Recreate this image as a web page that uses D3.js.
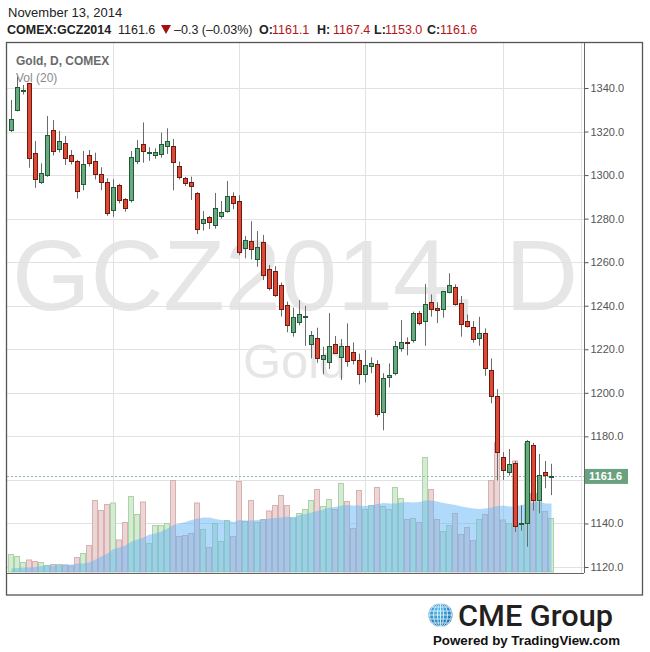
<!DOCTYPE html>
<html><head><meta charset="utf-8">
<script src="https://cdn.jsdelivr.net/npm/d3@7"></script>
<style>body{margin:0;background:#fff}svg{display:block}</style>
</head><body><svg id="c" width="650" height="652"></svg>
<script>
// ---- DATA ----
const opens  = [1320.4,1329.8,1338.6,1342.2,1310.0,1296.7,1299.9,1320.6,1311.8,1314.6,
                1309.1,1306.5,1295.8,1309.1,1306.3,1300.4,1296.7,1283.8,1295.3,1288.9,
                1288.4,1306.5,1314.3,1310.1,1309.1,1309.5,1313.2,1313.2,1304.0,1298.5,
                1296.7,1291.6,1277.7,1280.6,1276.9,1280.9,1283.2,1290.3,1288.1,1266.4,
                1269.6,1261.1,1269.1,1256.7,1255.8,1249.4,1240.2,1227.8,1232.4,1234.9,
                1222.1,1225.2,1215.7,1214.0,1222.6,1216.6,1221.5,1218.6,1214.9,1208.5,
                1212.6,1213.1,1190.9,1207.3,1209.0,1220.3,1223.2,1224.0,1236.5,1232.8,
                1241.6,1238.8,1238.4,1246.2,1248.5,1241.1,1233.0,1230.1,1225.0,1227.3,
                1210.3,1198.4,1170.4,1163.3,1167.6,1139.6,1140.0,1175.9,1150.6,1163.5,1161.1];
const highs  = [1334.5,1345.2,1341.4,1342.4,1315.7,1305.4,1327.1,1325.3,1320.3,1318.0,
                1311.5,1307.0,1311.1,1311.5,1310.3,1303.6,1298.5,1298.1,1296.0,1289.4,
                1311.1,1316.1,1324.2,1312.8,1312.3,1319.5,1321.5,1316.6,1306.2,1299.2,
                1299.3,1292.2,1283.5,1281.2,1291.8,1288.1,1297.3,1292.1,1290.7,1272.0,
                1278.8,1274.3,1272.5,1258.7,1258.2,1250.6,1241.9,1239.1,1242.6,1239.9,
                1228.4,1229.9,1221.2,1236.6,1226.1,1224.7,1231.9,1223.2,1218.0,1219.7,
                1216.3,1215.0,1209.0,1213.5,1223.8,1233.4,1225.5,1237.3,1237.6,1250.0,
                1245.2,1241.6,1246.8,1254.9,1249.8,1244.5,1236.0,1233.0,1234.9,1229.6,
                1215.8,1201.7,1172.8,1174.2,1168.7,1148.3,1178.3,1177.0,1171.9,1168.7,1167.4];
const lows   = [1319.8,1329.3,1337.0,1303.4,1294.2,1295.9,1299.2,1309.0,1310.4,1304.6,
                1304.9,1289.2,1293.0,1304.0,1298.0,1293.1,1281.3,1280.9,1287.0,1283.2,
                1287.4,1305.0,1305.7,1306.6,1307.5,1308.0,1309.7,1293.0,1298.0,1295.0,
                1288.6,1272.9,1274.5,1275.2,1275.4,1280.0,1282.7,1284.3,1263.2,1261.8,
                1261.3,1257.9,1251.8,1247.0,1244.0,1235.0,1227.8,1225.8,1231.0,1221.6,
                1215.8,1213.8,1208.5,1211.0,1218.0,1205.9,1212.0,1213.0,1203.9,1204.8,
                1209.0,1189.0,1182.8,1202.5,1208.0,1218.9,1217.2,1223.0,1231.0,1221.6,
                1235.0,1232.0,1234.5,1245.7,1240.0,1225.8,1230.0,1223.0,1221.6,1207.8,
                1195.2,1159.7,1160.0,1162.0,1136.1,1136.7,1129.3,1145.9,1144.7,1156.2,1153.0];
const closes = [1325.6,1340.3,1338.9,1307.7,1298.1,1300.8,1318.3,1311.1,1315.7,1307.7,
                1306.3,1292.5,1305.0,1305.4,1300.4,1296.7,1282.3,1294.4,1288.2,1284.9,
                1308.2,1312.3,1310.9,1310.4,1310.6,1314.1,1315.7,1305.9,1299.0,1296.2,
                1294.8,1275.1,1279.7,1278.3,1284.7,1282.9,1290.3,1286.9,1264.5,1270.0,
                1265.7,1266.8,1254.0,1248.0,1244.8,1238.4,1230.8,1234.8,1236.1,1235.1,
                1226.4,1215.8,1217.4,1221.5,1218.6,1221.5,1214.5,1214.9,1208.5,1212.6,
                1213.8,1190.1,1206.7,1208.2,1221.4,1223.2,1222.8,1236.5,1231.9,1240.6,
                1238.4,1237.9,1246.6,1249.4,1240.6,1231.5,1230.5,1224.6,1227.3,1211.3,
                1198.4,1172.7,1164.4,1167.2,1138.7,1140.0,1177.7,1150.6,1162.1,1161.9,1161.6];
// volume (thousands of contracts, estimated)
const volumes = [35,31,19,24,21,19,13,15,15,14, 12,29,37,53,143,123,135,138,64,99,
                 151,115,140,57,93,93,97,183,71,73, 77,138,85,49,97,61,103,71,181,101,
                 143,99,105,122,133,153,133,108,117,125, 143,165,131,145,125,177,141,87,163,125,
                 133,169,131,125,169,147,105,107,99,229, 165,105,81,93,117,75,89,63,105,115,
                 183,259,104,97,222,97,257,157,157,121,107];
// Vol (20) moving average
const volumeMA = [7,8,9,9,10,12,13,13,14,15, 15,17,17,19,25,31,37,46,49,53,
                  61,65,69,75,77,81,87,94,97,100, 104,107,109,109,106,104,103,100,104,103,
                  103,104,105,107,108,109,111,109,114,116, 119,122,125,129,130,133,134,133,133,132,
                  133,136,138,137,137,139,140,139,140,143, 143,141,138,136,134,131,129,127,126,127,
                  129,132,133,131,131,134,137,139,141,137,137];
const priceTicks = [1120,1140,1160,1180,1200,1220,1240,1260,1280,1300,1320,1340];
const timeTickIndex = [17,38,59,82,95];
const timeTickLabels = ["Aug","Sep","Oct","Nov","20"];
const lastPrice = 1161.6;

// ---- LAYOUT ----
const svg = d3.select("#c");
const P = {left:7, right:584, top:43, bottom:573};
const x = d3.scaleLinear().domain([0,90]).range([11,551]);
const y = d3.scaleLinear().domain([1120,1340]).range([567,88]);
const yv = d3.scaleLinear().domain([0,300]).range([572,422]);
const FONT = "'Liberation Sans', Arial, sans-serif";

const defs = svg.append("defs");
defs.append("clipPath").attr("id","plotclip")
  .append("rect").attr("x",P.left).attr("y",P.top).attr("width",P.right-P.left).attr("height",P.bottom-P.top);
defs.append("clipPath").attr("id","axisclip")
  .append("rect").attr("x",0).attr("y",570).attr("width",583).attr("height",30);

// header
svg.append("text").attr("x",8).attr("y",17).attr("font-family",FONT).attr("font-size",13).attr("fill","#222").text("November 13, 2014");
const h2 = svg.append("text").attr("y",34).attr("font-family",FONT).attr("font-size",12.5).attr("fill","#222");
const red = "#b3141b";
[["COMEX:GCZ2014",7,"bold","#222"],["1161.6",118,"normal","#222"],["–0.3 (–0.03%)",174,"normal","#222"],
 ["O:",259,"bold","#222"],["1161.1",272,"normal",red],["H:",317,"bold","#222"],["1167.4",333,"normal",red],
 ["L:",374,"bold","#222"],["1153.0",385,"normal",red],["C:",427,"bold","#222"],["1161.6",440,"normal",red]]
 .forEach(([t,xx,w,c])=>h2.append("tspan").attr("x",xx).attr("font-weight",w).attr("fill",c).text(t));
svg.append("path").attr("d","M161,25 L171,25 L166,34 Z").attr("fill","#a50f0f");

const g = svg.append("g");
// watermark
g.append("text").attr("x",12).attr("y",310).attr("font-family",FONT).attr("font-size",100).attr("fill","#e6e6e6")
  .attr("textLength",566).attr("lengthAdjust","spacingAndGlyphs").text("GCZ2014, D");
g.append("text").attr("x",243).attr("y",378).attr("font-family",FONT).attr("font-size",49).attr("fill","#e6e6e6").text("Gold");

// gridlines
g.selectAll(".hg").data(priceTicks).join("line")
  .attr("x1",P.left).attr("x2",P.right).attr("y1",d=>Math.round(y(d))+0.5).attr("y2",d=>Math.round(y(d))+0.5)
  .attr("stroke","#e2e2e2");
g.selectAll(".vg").data(timeTickIndex).join("line")
  .attr("y1",P.top).attr("y2",P.bottom).attr("x1",d=>x(d)+0.5).attr("x2",d=>x(d)+0.5)
  .attr("stroke","#e2e2e2");

// titles
g.append("text").attr("x",16).attr("y",65).attr("font-family",FONT).attr("font-size",12).attr("font-weight","bold").attr("fill","#6a6a6a").text("Gold, D, COMEX");
g.append("text").attr("x",16).attr("y",82).attr("font-family",FONT).attr("font-size",12).attr("fill","#8a8a8a").text("Vol (20)");

const pg = g.append("g").attr("clip-path","url(#plotclip)");
const idx = d3.range(opens.length);
// volume bars
pg.selectAll(".vb").data(idx).join("rect")
  .attr("x",i=>x(i)-2.5).attr("width",5)
  .attr("y",i=>yv(volumes[i])).attr("height",i=>yv(0)-yv(volumes[i]))
  .attr("fill",i=>closes[i]>=opens[i]?"#d6ebd3":"#ebd5d5")
  .attr("stroke",i=>closes[i]>=opens[i]?"#acd3a7":"#d9b0b0").attr("stroke-width",1);
// volume MA area
pg.append("path").datum(idx)
  .attr("d",d3.area().x(i=>x(i)+0.5).y0(yv(0)).y1(i=>yv(volumeMA[i])))
  .attr("fill","rgba(100,181,246,0.5)");

// last price dashed line
pg.append("line").attr("x1",P.left).attr("x2",P.right)
  .attr("y1",Math.round(y(lastPrice))+0.5).attr("y2",Math.round(y(lastPrice))+0.5)
  .attr("stroke","#8fb9a0").attr("stroke-dasharray","2,2");

// wicks
pg.selectAll(".wk").data(idx).join("line")
  .attr("x1",i=>x(i)+0.5).attr("x2",i=>x(i)+0.5)
  .attr("y1",i=>y(highs[i])).attr("y2",i=>y(lows[i]))
  .attr("stroke","#6b6b6b");
// bodies
pg.selectAll(".bd").data(idx).join("rect")
  .attr("x",i=>x(i)-1.5).attr("width",4)
  .attr("y",i=>Math.round(Math.min(y(opens[i]),y(closes[i])))+0.5)
  .attr("height",i=>Math.max(1,Math.round(Math.abs(y(opens[i])-y(closes[i])))))
  .attr("fill",i=>closes[i]>=opens[i]?"#6aa882":"#dc4a36")
  .attr("stroke",i=>closes[i]>=opens[i]?"#1e5a36":"#6e1a10").attr("stroke-width",1);

// axes
const ly = y(lastPrice);
const ya = d3.axisRight(y).tickValues(priceTicks).tickFormat(d3.format(".1f")).tickSize(4).tickPadding(2);
const yag = svg.append("g").attr("transform",`translate(${P.right+0.5},0)`).call(ya);
yag.select(".domain").remove();
yag.selectAll("line").attr("stroke","#555");
yag.selectAll("text").attr("font-family",FONT).attr("font-size",11).attr("fill","#555");
// hide tick labels covered by the last-price label
yag.selectAll(".tick").filter(d=>Math.abs(y(d)-ly)<14).select("text").remove();
svg.append("line").attr("x1",P.right+0.5).attr("x2",P.right+0.5).attr("y1",P.top).attr("y2",P.bottom).attr("stroke","#666");

const xa = d3.axisBottom(x).tickValues(timeTickIndex).tickFormat((d,k)=>timeTickLabels[k]).tickSize(4).tickPadding(3);
const xag = svg.append("g").attr("transform",`translate(0.5,${P.bottom+0.5})`).attr("clip-path","url(#axisclip)").call(xa);
xag.select(".domain").remove();
xag.selectAll("line").attr("stroke","#555");
xag.selectAll("text").attr("font-family",FONT).attr("font-size",11).attr("font-weight","bold").attr("fill","#555");
svg.append("line").attr("x1",P.left).attr("x2",P.right).attr("y1",P.bottom+0.5).attr("y2",P.bottom+0.5).attr("stroke","#666");

// price label
svg.append("rect").attr("x",P.right+1).attr("y",ly-7.5).attr("width",43).attr("height",15).attr("fill","#6aa17f");
svg.append("text").attr("x",589).attr("y",ly+4).attr("font-family",FONT).attr("font-size",11).attr("font-weight","bold").attr("fill","#fff").text(d3.format(".1f")(lastPrice));

// frame
svg.append("rect").attr("x",6.5).attr("y",42.5).attr("width",636).attr("height",552.5).attr("fill","none").attr("stroke","#555").attr("stroke-width",1.3);

// logo
const gr = defs.append("radialGradient").attr("id","glb").attr("cx","40%").attr("cy","35%").attr("r","70%");
gr.append("stop").attr("offset","0%").attr("stop-color","#5cc0f2");
gr.append("stop").attr("offset","100%").attr("stop-color","#0a6aac");
const lg = svg.append("g");
const gx=440.5, gy=615, gr0=12;
lg.append("circle").attr("cx",gx).attr("cy",gy).attr("r",gr0).attr("fill","url(#glb)");
const gl = lg.append("g").attr("stroke","#fff").attr("stroke-width",0.9).attr("fill","none").attr("opacity",0.85);
[-8,-4,0,4,8].forEach(o=>{const w=Math.sqrt(gr0*gr0-o*o);gl.append("line").attr("x1",gx-w).attr("x2",gx+w).attr("y1",gy+o).attr("y2",gy+o);});
[3,7,11].forEach(rx=>gl.append("ellipse").attr("cx",gx).attr("cy",gy).attr("rx",rx).attr("ry",gr0));
gl.append("line").attr("x1",gx).attr("x2",gx).attr("y1",gy-gr0).attr("y2",gy+gr0);
lg.append("text").attr("x",458).attr("y",626).attr("font-family","Roboto, 'Liberation Sans', sans-serif").attr("font-weight",500)
  .attr("font-size",30).attr("fill","#231f20").attr("textLength",155).attr("lengthAdjust","spacingAndGlyphs").text("CME Group");
lg.append("text").attr("x",433).attr("y",645).attr("font-family",FONT).attr("font-weight","bold")
  .attr("font-size",12.5).attr("fill","#111").attr("textLength",187).attr("lengthAdjust","spacingAndGlyphs").text("Powered by TradingView.com");
</script></body></html>
